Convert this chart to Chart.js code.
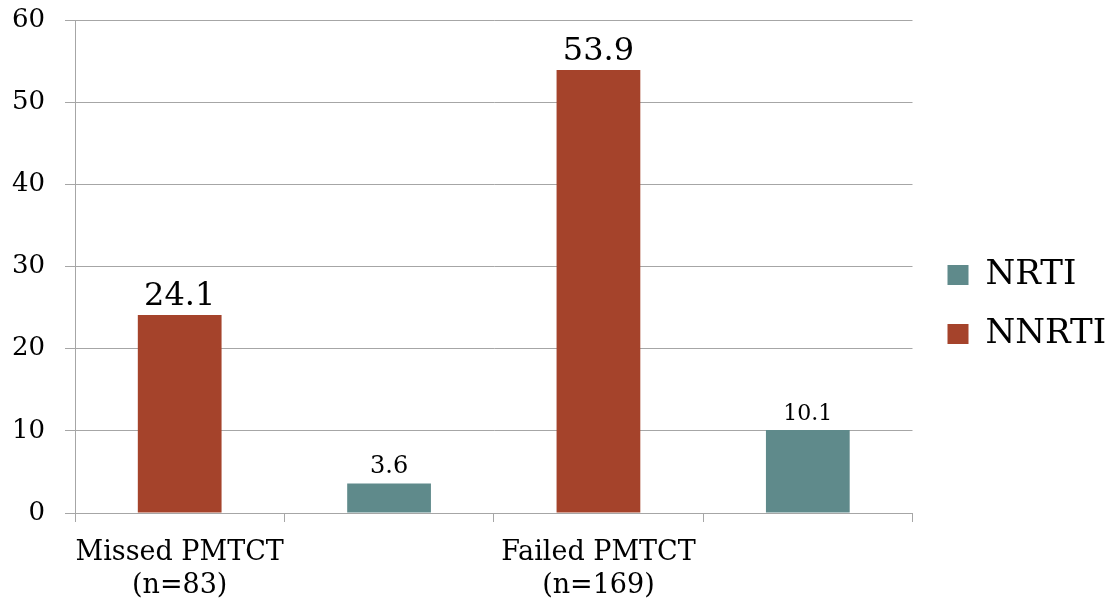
<!DOCTYPE html>
<html>
<head>
<meta charset="utf-8">
<script src="https://cdn.jsdelivr.net/npm/chart.js@4"></script>
<style>
  html, body { margin: 0; padding: 0; background: #ffffff; }
  #wrap { width: 1107px; height: 603px; position: relative; }
</style>
</head>
<body>
<div id="wrap"><canvas id="c"></canvas></div>
<script>
// ---- data ----
const categories = [['Missed PMTCT', '(n=83)'], '', ['Failed PMTCT', '(n=169)'], ''];
const seriesNames = ['NRTI', 'NNRTI'];
const nrtiValues = [null, 3.6, null, 10.1];
const nnrtiValues = [24.1, null, 53.9, null];
const yTicks = [0, 10, 20, 30, 40, 50, 60];

// ---- styles ----
const FONT = "'DejaVu Serif', 'Liberation Serif', serif";
const colors = { NRTI: '#5F8A8B', NNRTI: '#A5432B' };
const labelFontSizes = { '24.1': 32, '53.9': 32, '3.6': 24, '10.1': 22 };

const valueLabels = {
  id: 'valueLabels',
  afterDatasetsDraw(chart) {
    const ctx = chart.ctx;
    ctx.save();
    ctx.fillStyle = '#000';
    ctx.textAlign = 'center';
    ctx.textBaseline = 'alphabetic';
    chart.data.datasets.forEach((ds, di) => {
      const meta = chart.getDatasetMeta(di);
      meta.data.forEach((el, i) => {
        const v = ds.data[i];
        if (v === null || v === undefined) return;
        const txt = String(v);
        const size = labelFontSizes[txt] || 24;
        ctx.font = size + 'px ' + FONT;
        ctx.fillText(txt, el.x, el.y - 10);
      });
    });
    ctx.restore();
  }
};

new Chart(document.getElementById('c'), {
  type: 'bar',
  data: {
    labels: categories,
    datasets: [
      { label: seriesNames[0], data: nrtiValues, backgroundColor: colors.NRTI, borderWidth: 0 },
      { label: seriesNames[1], data: nnrtiValues, backgroundColor: colors.NNRTI, borderWidth: 0 }
    ]
  },
  options: {
    responsive: true,
    maintainAspectRatio: false,
    animation: false,
    devicePixelRatio: 1,
    datasets: { bar: { barPercentage: 0.4, categoryPercentage: 1.0 } },
    layout: { padding: { top: 6, right: 0, bottom: 0, left: 0 } },
    plugins: {
      legend: {
        position: 'right',
        align: 'center',
        labels: {
          font: { family: FONT, size: 34 },
          color: '#000',
          boxWidth: 21,
          boxHeight: 20,
          padding: 25
        }
      },
      tooltip: { enabled: false }
    },
    scales: {
      x: {
        stacked: true,
        grid: {
          display: true,
          drawOnChartArea: false,
          drawTicks: true,
          tickLength: 9,
          color: '#a6a6a6',
          offset: true
        },
        border: { display: true, color: '#a6a6a6', width: 1 },
        ticks: {
          font: { family: FONT, size: 27, lineHeight: 1.22 },
          color: '#000',
          padding: 15,
          maxRotation: 0,
          autoSkip: false
        },
        afterFit(s) { s.height = 90; s.paddingLeft = 0; s.paddingRight = 0; }
      },
      y: {
        min: 0,
        max: 60,
        afterBuildTicks(s) { s.ticks = yTicks.map(v => ({ value: v })); },
        grid: {
          color: '#a6a6a6',
          lineWidth: 1,
          drawTicks: true,
          tickLength: 10
        },
        border: { display: true, color: '#a6a6a6', width: 1 },
        ticks: {
          font: { family: FONT, size: 26 },
          color: '#000',
          padding: 20
        },
        afterFit(s) { s.width = 75; s.paddingTop = 20; s.paddingBottom = 0; }
      },
      yR: {
        position: 'right',
        display: true,
        grid: { display: false, drawTicks: false },
        border: { display: false },
        ticks: { display: false },
        afterFit(s) { s.width = 10; s.paddingTop = 0; s.paddingBottom = 0; }
      }
    }
  },
  plugins: [valueLabels]
});
</script>
</body>
</html>
